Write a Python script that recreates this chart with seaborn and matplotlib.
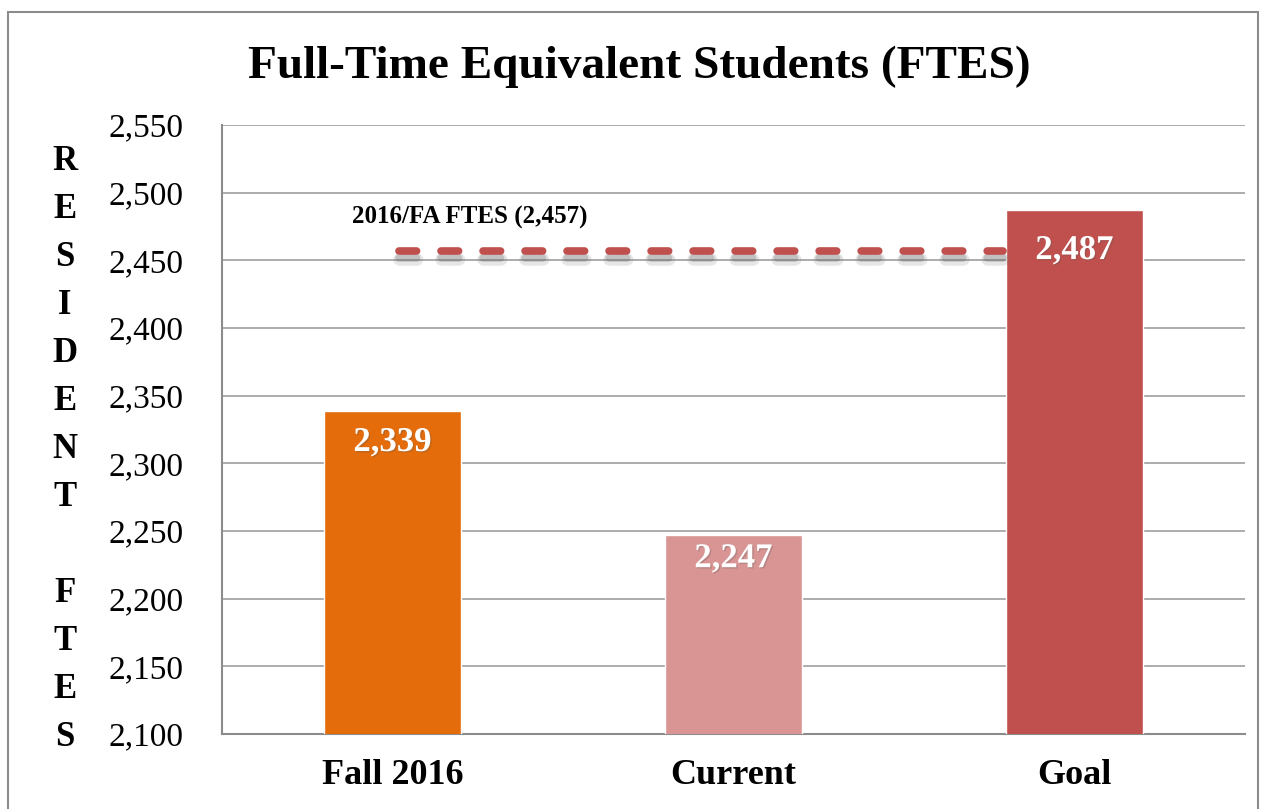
import matplotlib
matplotlib.use("Agg")
import matplotlib.pyplot as plt
import matplotlib.patheffects as pe
from matplotlib.patches import Rectangle
from matplotlib.ticker import FuncFormatter
import pandas as pd
import seaborn as sns

# chart data
categories = ["Fall 2016", "Current", "Goal"]
ftes = [2339, 2247, 2487]
bar_colors = ["#E46C0A", "#D99594", "#C0504D"]
reference_value = 2457
reference_label = "2016/FA FTES (2,457)"

sns.set_theme(style="white")
plt.rcParams["font.family"] = ["Liberation Serif", "DejaVu Serif"]
plt.rcParams["text.color"] = "black"
plt.rcParams["xtick.color"] = "black"
plt.rcParams["ytick.color"] = "black"

df = pd.DataFrame({"cat": categories, "ftes": ftes})

fig = plt.figure(figsize=(12.63, 8.09), dpi=100)
ax = fig.add_axes([0.1758, 0.0927, 0.8099, 0.7528])

sns.barplot(data=df, x="cat", y="ftes", hue="cat", palette=bar_colors,
            width=0.40, saturation=1, legend=False, ax=ax, zorder=3)

ax.set_ylim(2100, 2550)
ax.set_xlim(-0.5, 2.5)
ax.set_yticks(range(2100, 2551, 50))
ax.yaxis.set_major_formatter(FuncFormatter(lambda v, p: f"{int(v):,}"))
ax.grid(axis="y", color="#A6A6A6", linewidth=1.3, zorder=0)
ax.set_axisbelow(True)
for side in ["top", "right"]:
    ax.spines[side].set_visible(False)
for side in ["left", "bottom"]:
    ax.spines[side].set_color("#8C8C8C")
    ax.spines[side].set_linewidth(1.5)

ax.tick_params(axis="y", labelsize=24, pad=28, length=0, labelcolor="black")
ax.tick_params(axis="x", labelsize=26, pad=18, length=0, labelcolor="black")
for t in ax.get_xticklabels():
    t.set_fontweight("bold")
ax.set_xlabel("")
ax.set_ylabel("")

# value labels inside bars
offsets = [-23, -17, -29]
for i, v in enumerate(ftes):
    ax.annotate(f"{v:,}", (i, v), xytext=(0, offsets[i]), textcoords="offset points",
                ha="center", va="center", color="white", fontsize=25,
                fontweight="bold", zorder=5,
                path_effects=[pe.withSimplePatchShadow(offset=(1, -1), shadow_rgbFace="#555555", alpha=0.25)])

# reference line with a soft shadow
line, = ax.plot([0.02, 1.79], [reference_value, reference_value], color="#C0504D",
                linewidth=5.5, dashes=(2.3, 3.2), dash_capstyle="round", zorder=4)
line.set_path_effects([
    pe.SimpleLineShadow(offset=(0, -6), shadow_color="#777777", alpha=0.18, linewidth=9),
    pe.SimpleLineShadow(offset=(0, -5), shadow_color="#555555", alpha=0.25),
    pe.Normal()])
ax.text(-0.12, reference_value + 25, reference_label, ha="left", va="center",
        fontsize=18, fontweight="bold", color="black", zorder=5)

fig.suptitle("Full-Time Equivalent Students (FTES)", x=0.506, y=0.918,
             fontsize=34, fontweight="bold", va="center", color="black")

# stacked vertical y label
fig.text(65 / 1263, 1 - 450 / 809, "R\nE\nS\nI\nD\nE\nN\nT\n\nF\nT\nE\nS",
         ha="center", va="center", fontsize=25, fontweight="bold",
         linespacing=1.6, color="black")

# outer chart border
fig.patches.append(Rectangle((8 / 1263, -0.02), 1250 / 1263, 1.02 - 12 / 809,
                             transform=fig.transFigure, fill=False,
                             edgecolor="#8C8C8C", linewidth=1.5))

fig.savefig("out.png", dpi=100)
